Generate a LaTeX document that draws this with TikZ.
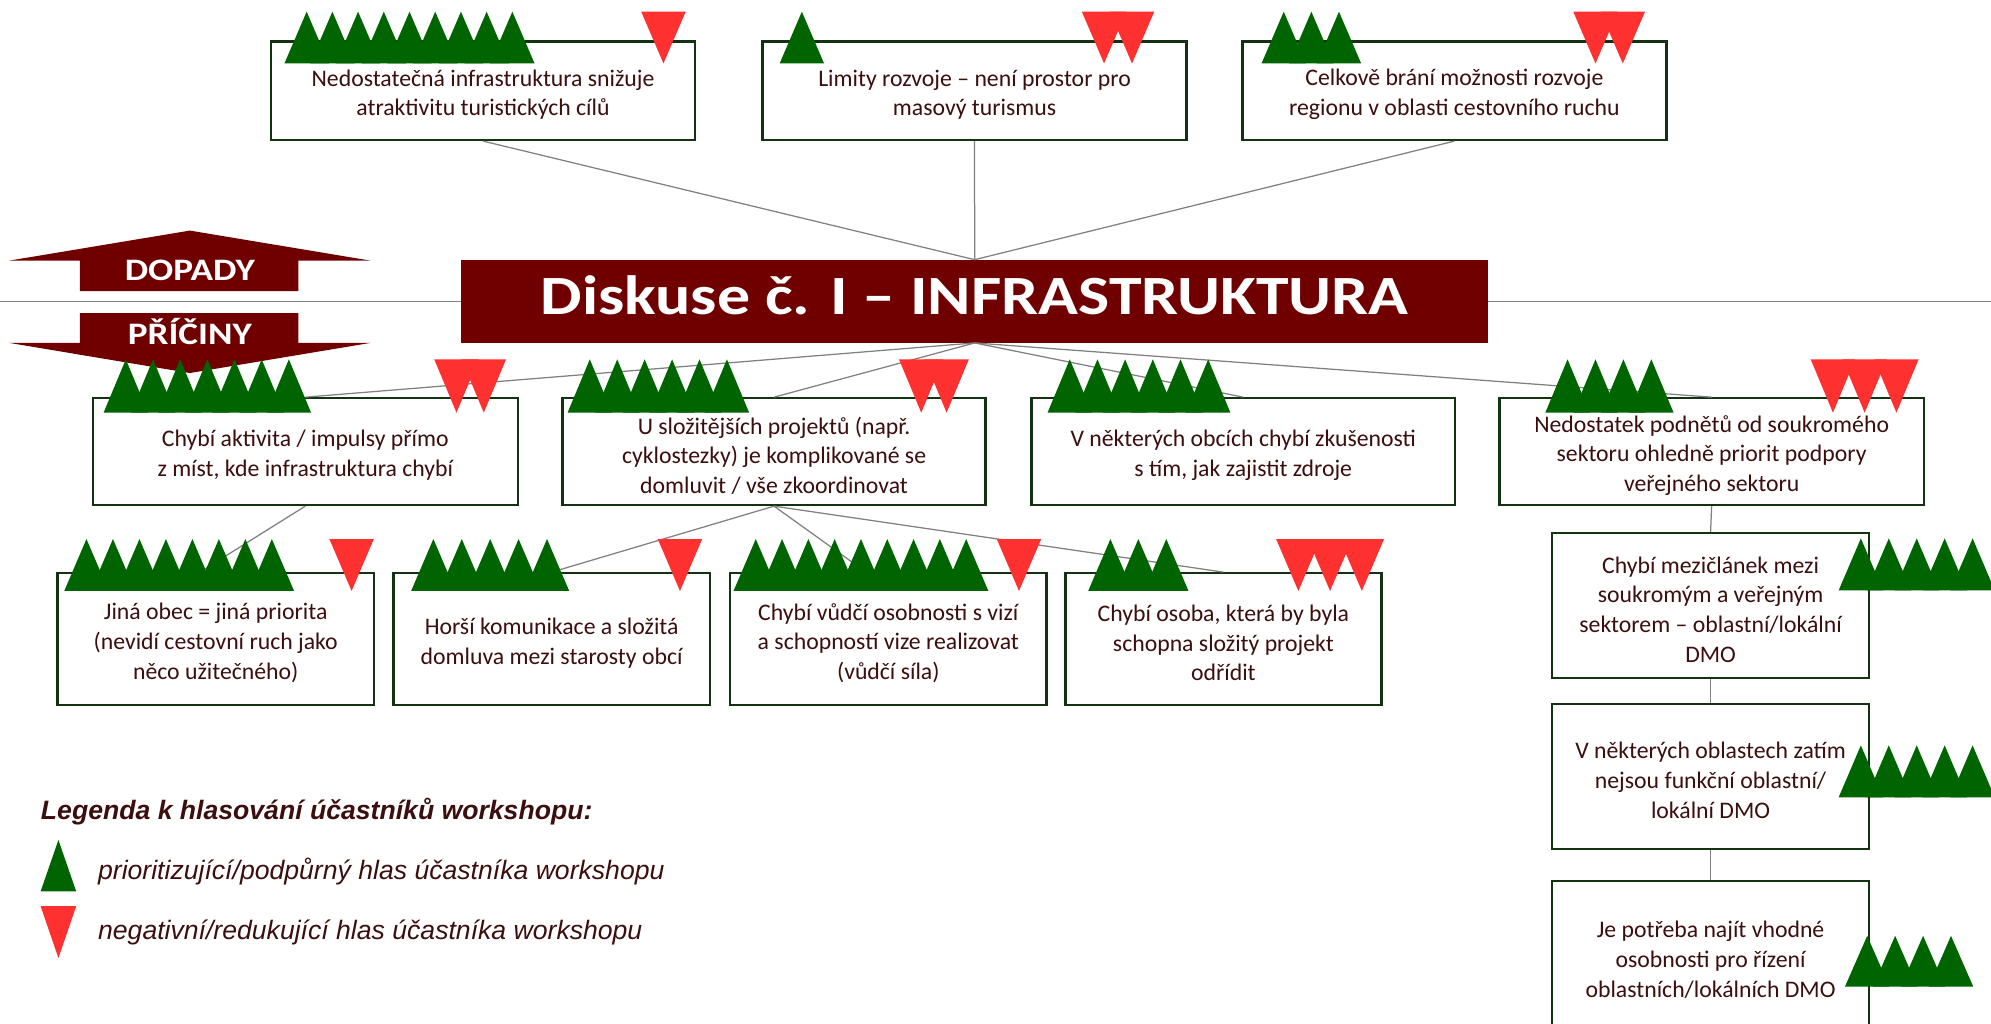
\documentclass[tikz,border=0pt]{standalone}
\usepackage{fontspec}
\setmainfont{Carlito}
\newfontfamily\titlefont[FakeStretch=1.19]{Carlito}
\newfontfamily\legfont{Liberation Sans}
\usetikzlibrary{calc}
\definecolor{maroonfill}{RGB}{112,0,0}
\definecolor{vgreen}{RGB}{0,100,0}
\definecolor{vred}{RGB}{255,48,48}
\definecolor{boxgreen}{RGB}{18,50,18}
\definecolor{textdark}{RGB}{60,14,14}
\definecolor{linegrey}{RGB}{128,128,128}
\tikzset{
  box/.style={draw=boxgreen, line width=1.3pt, fill=white, inner sep=0pt},
  boxtext/.style={text=textdark, align=center, inner sep=0pt, font=\fontsize{13.3}{16.6}\selectfont},
  conn/.style={draw=linegrey, line width=0.7pt},
  hline/.style={draw=linegrey, line width=1pt},
  titlebox/.style={fill=maroonfill, inner sep=0pt},
  arrowtext/.style={text=white, font=\titlefont\bfseries\fontsize{17.5}{20}\selectfont, anchor=base, inner sep=0pt},
  legtext/.style={text=textdark, anchor=base west, inner sep=0pt}
}
\newcommand{\bx}[6]{%
  \node[box, minimum width={(#4-#2)*0.025cm}, minimum height={(#5-#3)*0.025cm}] (#1) at ({(#2+#4)/2},{(#3+#5)/2}) {};
  \node[boxtext] (#1t) at ([yshift=-0.075cm]#1.center) {#6};}
\newcommand{\votesup}[5]{%
  \pgfmathsetmacro{\vp}{(#2-#1-35)/max(#3-1,1)}%
  \foreach \k in {1,...,#3}{%
    \pgfmathsetmacro{\vx}{#1+(\k-1)*\vp}%
    \fill[vgreen] (\vx,#5) -- ({\vx+17.5},#4) -- ({\vx+35},#5) -- cycle;}}
\newcommand{\votesdown}[5]{%
  \pgfmathsetmacro{\vp}{(#2-#1-35)/max(#3-1,1)}%
  \foreach \k in {1,...,#3}{%
    \pgfmathsetmacro{\vx}{#1+(\k-1)*\vp}%
    \fill[vred] (\vx,#4) -- ({\vx+35},#4) -- ({\vx+17.5},#5) -- cycle;}}
\begin{document}
\begin{tikzpicture}[x=0.025cm,y=-0.025cm]
\useasboundingbox (0,0) rectangle (1568,806);
\clip (0,0) rectangle (1568,806);

% horizontal line
\coordinate (hl) at (0,237.5);
\coordinate (hr) at (1568,237.5);
\draw[hline] (hl) -- (hr);

% title box
\node[titlebox, minimum width={808.8*0.025cm}, minimum height={65*0.025cm}] (title) at (767.6,237.3) {};
\node[text=white, anchor=base, inner sep=0pt, font=\titlefont\bfseries\fontsize{31}{36}\selectfont] (titletext) at (767.6,248) {Diskuse č. I – INFRASTRUKTURA};

% connectors (drawn first, boxes cover their ends)
\path (213.4,32.8) coordinate (dummy);

% boxes
\bx{T1}{213.4}{32.8}{547.4}{110.2}{Nedostatečná infrastruktura snižuje\\atraktivitu turistických cílů}
\bx{T2}{600.5}{32.8}{934.5}{110.2}{Limity rozvoje – není prostor pro\\masový turismus}
\bx{T3}{978.4}{32.8}{1312.5}{110.2}{Celkově brání možnosti rozvoje\\regionu v oblasti cestovního ruchu}

\bx{C1}{73.1}{313.7}{407.8}{397.7}{Chybí aktivita / impulsy přímo\\z míst, kde infrastruktura chybí}
\bx{C2}{443}{313.7}{776.2}{397.7}{U složitějších projektů (např.\\cyklostezky) je komplikované se\\domluvit / vše zkoordinovat}
\bx{C3}{812.4}{313.7}{1145.8}{397.7}{V některých obcích chybí zkušenosti\\s tím, jak zajistit zdroje}
\bx{C4}{1181}{313.7}{1515}{397.7}{Nedostatek podnětů od soukromého\\sektoru ohledně priorit podpory\\veřejného sektoru}

\bx{D1}{45.3}{451.5}{294.5}{555.2}{Jiná obec = jiná priorita\\(nevidí cestovní ruch jako\\něco užitečného)}
\bx{D2}{309.9}{451.5}{559}{555.2}{Horší komunikace a složitá\\domluva mezi starosty obcí}
\bx{D3}{575}{451.5}{824.2}{555.2}{Chybí vůdčí osobnosti s vizí\\a schopností vize realizovat\\(vůdčí síla)}
\bx{D4}{839}{451.5}{1088}{555.2}{Chybí osoba, která by byla\\schopna složitý projekt\\odřídit}

\bx{E1}{1222.5}{420}{1471.8}{534}{Chybí mezičlánek mezi\\soukromým a veřejným\\sektorem – oblastní/lokální\\DMO}
\bx{E2}{1222.5}{554.4}{1471.8}{668.8}{V některých oblastech zatím\\nejsou funkční oblastní/\\lokální DMO}
\bx{E3}{1222.5}{693.8}{1471.8}{812}{Je potřeba najít vhodné\\osobnosti pro řízení\\oblastních/lokálních DMO}

% connectors
\draw[conn] (title.north) -- (T1.south);
\draw[conn] (title.north) -- (T2.south);
\draw[conn] (title.north) -- (T3.south);
\draw[conn] (title.south) -- (C1.north);
\draw[conn] (title.south) -- (C2.north);
\draw[conn] (title.south) -- (C3.north);
\draw[conn] (title.south) -- (C4.north);
\draw[conn] (C1.south) -- ($(D1.north west)!0.45!(D1.north east)$);
\draw[conn] (C2.south) -- (D2.north);
\draw[conn] (C2.south) -- ($(D3.north west)!0.43!(D3.north east)$);
\draw[conn] (C2.south) -- (D4.north);
\draw[conn] (C4.south) -- (E1.north);
\draw[conn] (E1.south) -- (E2.north);
\draw[conn] (E2.south) -- (E3.north);

% DOPADY / PRICINY arrows
\fill[maroonfill] (7,205.3) -- (149.5,181.6) -- (292,205.3) -- (235,205.3) -- (235,229.2) -- (63,229.2) -- (63,205.3) -- cycle;
\node[arrowtext] (dopady) at (149.5,221) {DOPADY};
\fill[maroonfill] (63,246.7) -- (235,246.7) -- (235,270) -- (292,270) -- (149.5,293.8) -- (7,270) -- (63,270) -- cycle;
\node[arrowtext] (priciny) at (149.5,271.7) {PŘÍČINY};

% votes
\votesup{224}{421}{9}{9.2}{50}
\votesdown{505}{540}{1}{9.2}{50}
\votesup{614}{649}{1}{9.2}{50}
\votesdown{852}{909}{2}{9.2}{50}
\votesup{993.5}{1072}{3}{9.2}{50}
\votesdown{1239}{1295.5}{2}{9.2}{50}

\votesup{81.6}{245}{7}{283}{325}
\votesdown{342}{398.5}{2}{283}{325}
\votesup{447}{590}{6}{283}{325}
\votesdown{708}{763}{2}{283}{325}
\votesup{825}{969}{6}{283}{325}
\votesup{1217}{1318}{4}{283}{325}
\votesdown{1426}{1511}{3}{283}{325}

\votesup{50.6}{231.6}{8}{424.5}{465.4}
\votesdown{259.4}{294}{1}{424.5}{465.4}
\votesup{323.8}{448.3}{5}{424.5}{465.4}
\votesdown{518}{553.8}{1}{424.5}{465.4}
\votesup{577.7}{778.4}{9}{424.5}{465.4}
\votesdown{785}{820}{1}{424.5}{465.4}
\votesup{857}{936}{3}{424.5}{465.4}
\votesdown{1005}{1090}{3}{424.5}{465.4}

\votesup{1448}{1571}{5}{424}{465}
\votesup{1448}{1571}{5}{587}{628}
\votesup{1453}{1554}{4}{737}{777}

% legend
\node[legtext, font=\legfont\bfseries\itshape\fontsize{14.9}{18}\selectfont] (leghead) at (32,645) {Legenda k hlasování účastníků workshopu:};
\fill[vgreen] (32,702) -- (46,661.5) -- (60,702) -- cycle;
\node[legtext, font=\legfont\itshape\fontsize{14.9}{18}\selectfont] (legup) at (77,693) {prioritizující/podpůrný hlas účastníka workshopu};
\fill[vred] (32,713.7) -- (60,713.7) -- (46,754.5) -- cycle;
\node[legtext, font=\legfont\itshape\fontsize{14.9}{18}\selectfont] (legdown) at (77,740.2) {negativní/redukující hlas účastníka workshopu};
\end{tikzpicture}
\end{document}
